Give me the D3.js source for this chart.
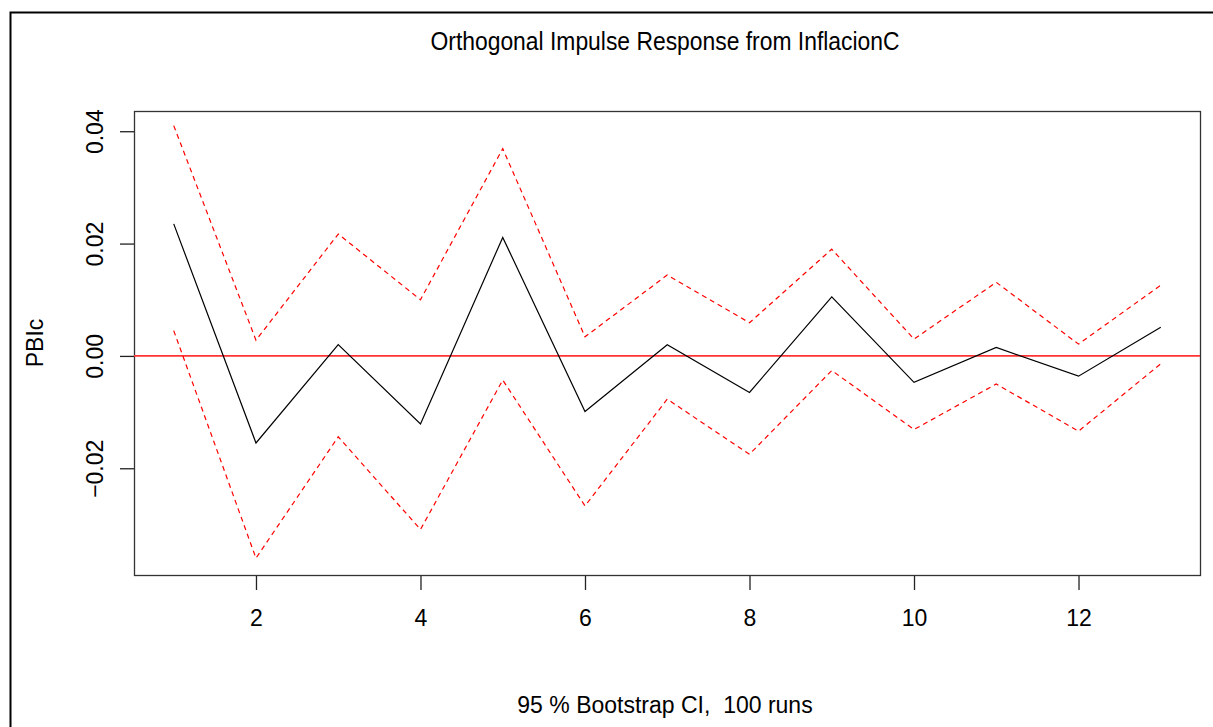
<!DOCTYPE html>
<html lang="en">
<head>
    <meta charset="UTF-8">
    <title>Orthogonal Impulse Response</title>
    <script src="https://cdn.jsdelivr.net/npm/d3@7"></script>
    <style>
        body { margin: 0; background: #fff; }
        text { font-family: "Liberation Sans", Arial, sans-serif; fill: #000; }
        .title { font-family: "Liberation Sans Narrow", "Liberation Sans", Arial, sans-serif; }
    </style>
</head>
<body>
    <div id="container"></div>
    <script>
        // ---------- data ----------
        const steps = [1, 2, 3, 4, 5, 6, 7, 8, 9, 10, 11, 12, 13];
        const irf = [0.0235, -0.0155, 0.0020, -0.0121, 0.0211, -0.0099, 0.0020, -0.0065, 0.0105, -0.0047, 0.0015, -0.0036, 0.0051];
        const upper = [0.0410, 0.0028, 0.0217, 0.0100, 0.0369, 0.0034, 0.0144, 0.0059, 0.0190, 0.0030, 0.0131, 0.0021, 0.0126];
        const lower = [0.0045, -0.0360, -0.0144, -0.0309, -0.0043, -0.0267, -0.0077, -0.0175, -0.0026, -0.0131, -0.0050, -0.0134, -0.0014];
        const xTicks = [2, 4, 6, 8, 10, 12];
        const yTicks = [-0.02, 0.00, 0.02, 0.04];

        // ---------- layout ----------
        const W = 1213, H = 727;
        const box = { left: 134, right: 1200, top: 111, bottom: 575 };

        const svg = d3.select("#container").append("svg")
            .attr("width", W)
            .attr("height", H);

        // outer frame (only left and top visible in the crop)
        svg.append("path")
            .attr("d", `M10.5,${H} L10.5,12.5 L${W},12.5`)
            .attr("fill", "none")
            .attr("stroke", "#000")
            .attr("stroke-width", 2);

        // scales (R style 4% padding)
        const x = d3.scaleLinear().domain([0.517, 13.477]).range([box.left, box.right]);
        const y = d3.scaleLinear().domain([-0.0390, 0.0436]).range([box.bottom, box.top]);

        // axes
        const xAxis = d3.axisBottom(x).tickValues(xTicks).tickSize(15).tickPadding(20).tickFormat(d3.format("d"));
        const yAxis = d3.axisLeft(y).tickValues(yTicks).tickSize(14).tickFormat(d3.format(".2f"));

        const gx = svg.append("g")
            .attr("transform", `translate(0,${box.bottom})`)
            .call(xAxis);
        gx.select(".domain").remove();
        gx.selectAll(".tick line").attr("stroke", "#222").attr("stroke-width", 1.3);
        gx.selectAll(".tick text").attr("font-size", 23).attr("fill", "#000");

        const gy = svg.append("g")
            .attr("transform", `translate(${box.left},0)`)
            .call(yAxis);
        gy.select(".domain").remove();
        gy.selectAll(".tick line").attr("stroke", "#222").attr("stroke-width", 1.3);
        gy.selectAll(".tick text")
            .attr("font-size", 23)
            .attr("fill", "#000")
            .attr("x", null).attr("dy", null)
            .attr("text-anchor", "middle")
            .attr("transform", "translate(-31,0) rotate(-90)");

        // plot box
        svg.append("rect")
            .attr("x", box.left + 0.5)
            .attr("y", box.top + 0.5)
            .attr("width", box.right - box.left)
            .attr("height", box.bottom - box.top)
            .attr("fill", "none")
            .attr("stroke", "#333")
            .attr("stroke-width", 1.3);

        // zero line
        svg.append("line")
            .attr("x1", box.left).attr("x2", box.right)
            .attr("y1", y(0)).attr("y2", y(0))
            .attr("stroke", "#ff3333")
            .attr("stroke-width", 1.6);

        const line = d3.line().x((d, i) => x(steps[i])).y(d => y(d));

        // bootstrap bands
        [upper, lower].forEach(s => {
            svg.append("path")
                .attr("d", line(s))
                .attr("fill", "none")
                .attr("stroke", "#ff0000")
                .attr("stroke-width", 1.2)
                .attr("stroke-dasharray", "5,4");
        });

        // impulse response
        svg.append("path")
            .attr("d", line(irf))
            .attr("fill", "none")
            .attr("stroke", "#000")
            .attr("stroke-width", 1.2);

        // titles
        svg.append("text")
            .attr("class", "title")
            .attr("x", 665).attr("y", 50)
            .attr("text-anchor", "middle")
            .attr("font-size", 25)
            .attr("textLength", 469)
            .attr("lengthAdjust", "spacingAndGlyphs")
            .text("Orthogonal Impulse Response from InflacionC");

        svg.append("text")
            .attr("x", 665).attr("y", 713)
            .attr("text-anchor", "middle")
            .attr("font-size", 23)
            .style("white-space", "pre")
            .text("95 % Bootstrap CI,  100 runs");

        svg.append("text")
            .attr("transform", `translate(43,${(box.top + box.bottom) / 2}) rotate(-90)`)
            .attr("text-anchor", "middle")
            .attr("font-size", 23)
            .text("PBIc");
    </script>
</body>
</html>
